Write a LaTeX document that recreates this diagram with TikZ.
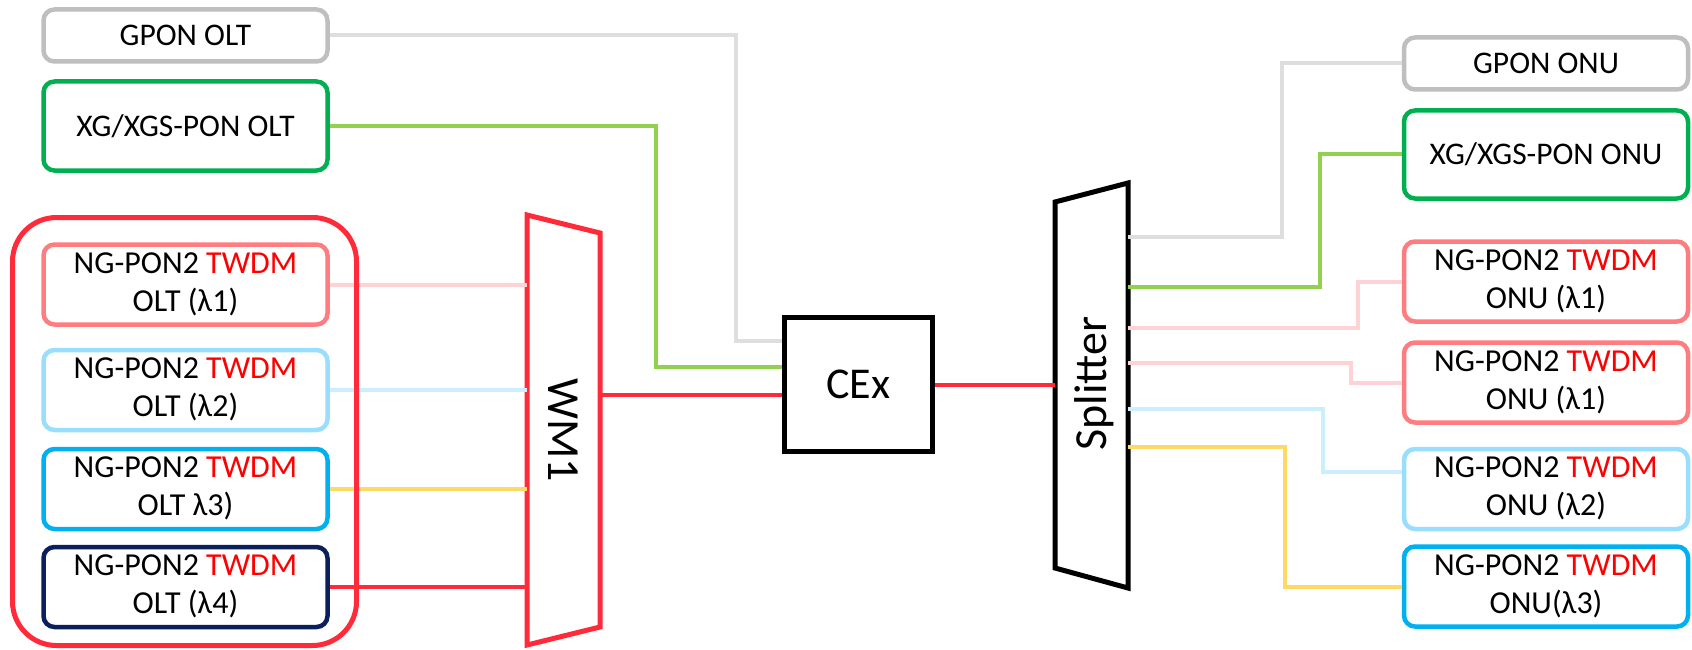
\documentclass[tikz,border=0pt]{standalone}
\usepackage{fontspec}
\setmainfont{Carlito}
\definecolor{gbox}{HTML}{BFBFBF}
\definecolor{gline}{HTML}{DEDEDE}
\definecolor{xbox}{HTML}{00B050}
\definecolor{xline}{HTML}{92D050}
\definecolor{tred}{HTML}{FF2A3A}
\definecolor{pbox}{HTML}{FF7C80}
\definecolor{pline}{HTML}{FFD3D6}
\definecolor{lbbox}{HTML}{99DDFF}
\definecolor{lbline}{HTML}{CCEEFF}
\definecolor{bbox}{HTML}{00B0F0}
\definecolor{yline}{HTML}{FFD966}
\definecolor{nbox}{HTML}{0A1F5C}
\definecolor{twdm}{HTML}{FF0000}
\newcommand{\tw}{\textcolor{twdm}{TWDM}}
\newcommand{\twoline}[1]{\raisebox{4pt}{\begin{tabular}{@{}c@{}}NG-PON2 \tw\\#1\end{tabular}}}
\begin{document}
\begin{tikzpicture}[x=1pt,y=-1pt,
  box/.style={draw, fill=white, rounded corners=11pt, line width=4.5pt, minimum width=284pt,
    align=center, inner sep=0pt, font=\fontsize{31.5}{38}\selectfont},
  ngbox/.style={box, minimum height=80pt, font=\fontsize{32}{38}\selectfont},
  conn/.style={line width=4pt},
  frame/.style={inner sep=0pt, outer sep=0pt},
]
\useasboundingbox (0,0) rectangle (1692,650);

% left column
\node[box, draw=gbox, minimum height=52pt] (gponolt) at (185.5,35.5) {GPON OLT};
\node[box, draw=xbox, minimum height=89pt] (xgolt) at (185.5,126) {XG/XGS-PON OLT};
\node[ngbox, draw=pbox] (olt1) at (185.5,284.5) {\twoline{OLT (λ1)}};
\node[ngbox, draw=lbbox] (olt2) at (185.5,390) {\twoline{OLT (λ2)}};
\node[ngbox, draw=bbox] (olt3) at (185.5,489) {\twoline{OLT λ3)}};
\node[ngbox, draw=nbox] (olt4) at (185.5,587) {\twoline{OLT (λ4)}};

% WM1
\node[frame, minimum width=73pt, minimum height=430pt] (wm) at (563.5,430) {};
\draw[tred, line width=5pt, line join=miter]
  (wm.north west) -- ([yshift=-18pt]wm.north east) -- ([yshift=18pt]wm.south east) -- (wm.south west) -- cycle;
\node[rotate=-90, font=\fontsize{46}{50}\selectfont] (wmlabel) at (wm.center) {WM1};

% CEx
\node[draw, line width=5pt, minimum width=148pt, minimum height=134pt,
  font=\fontsize{44}{50}\selectfont] (cex) at (858.5,384.5) {CEx};

% Splitter
\node[frame, minimum width=73pt, minimum height=405pt] (spl) at (1091.5,385.5) {};
\draw[black, line width=5pt, line join=miter]
  ([yshift=-19pt]spl.north west) -- (spl.north east) -- (spl.south east) -- ([yshift=20pt]spl.south west) -- cycle;
\node[rotate=90, font=\fontsize{46}{50}\selectfont] (spllabel) at ([xshift=3pt,yshift=2pt]spl.center) {Splitter};

% right column
\node[box, draw=gbox, minimum height=52pt] (gpononu) at (1546,63.5) {GPON ONU};
\node[box, draw=xbox, minimum height=88pt] (xgonu) at (1546,154.5) {XG/XGS-PON ONU};
\node[ngbox, draw=pbox] (onu1) at (1546,281.5) {\twoline{ONU (λ1)}};
\node[ngbox, draw=pbox] (onu2) at (1546,382.5) {\twoline{ONU (λ1)}};
\node[ngbox, draw=lbbox] (onu3) at (1546,489) {\twoline{ONU (λ2)}};
\node[ngbox, draw=bbox] (onu4) at (1546,586.5) {\twoline{ONU(λ3)}};

% ports
\coordinate (wmo) at (600,394.5);
\coordinate (p1) at (1128,237);
\coordinate (p2) at (1128,287);
\coordinate (p3) at (1128,328);
\coordinate (p4) at (1128,363);
\coordinate (p5) at (1128,409);
\coordinate (p6) at (1128,447);

% left connectors
\draw[conn, gline] (gponolt.east) -- ++(406,0) |- ([yshift=43.5pt]cex.west);
\draw[conn, xline] (xgolt.east) -- ++(326,0) |- ([yshift=17.5pt]cex.west);
\draw[conn, pline] (olt1.east) -- (olt1.east -| wm.west);
\draw[conn, lbline] (olt2.east) -- (olt2.east -| wm.west);
\draw[conn, yline] (olt3.east) -- (olt3.east -| wm.west);
\draw[conn, tred] (olt4.east) -- (olt4.east -| wm.west);
\draw[conn, tred] (wmo) -- (wmo -| cex.west);
\draw[conn, tred] (cex.east) -- (cex.east -| spl.west);

% right connectors
\draw[conn, gline] (gpononu.west) -- ++(-120,0) |- (p1);
\draw[conn, xline] (xgonu.west) -- ++(-82,0) |- (p2);
\draw[conn, pline] (onu1.west) -- ++(-44,0) |- (p3);
\draw[conn, pline] (onu2.west) -- ++(-51,0) |- (p4);
\draw[conn, lbline] ([yshift=17pt]onu3.west) -- ++(-79,0) |- (p5);
\draw[conn, yline] (onu4.west) -- ++(-117,0) |- (p6);

% group frame
\node[draw=tred, line width=5pt, rounded corners=44pt, minimum width=344pt,
  minimum height=428pt, frame] (grp) at (184.5,431.5) {};
\end{tikzpicture}
\end{document}
